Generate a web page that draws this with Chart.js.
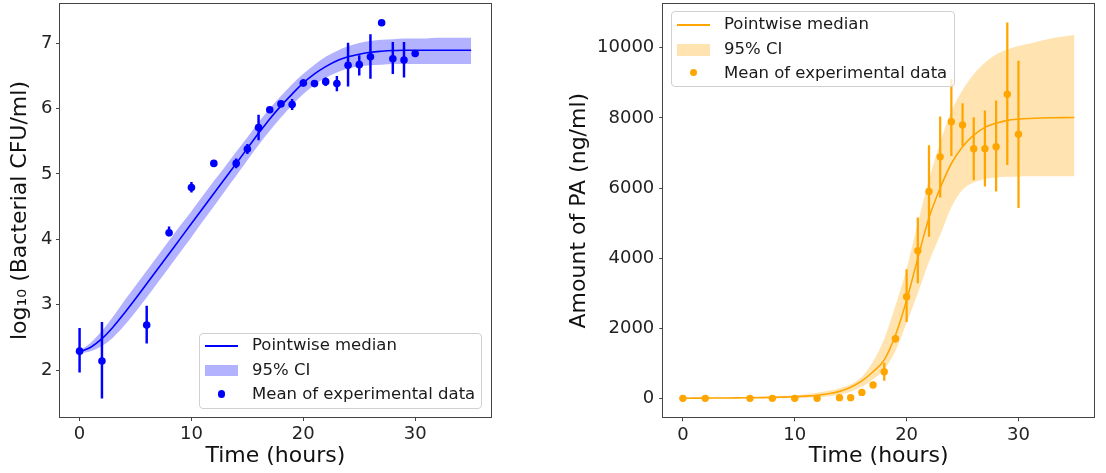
<!DOCTYPE html>
<html>
<head>
<meta charset="utf-8">
<script src="https://cdn.jsdelivr.net/npm/chart.js@4.4.0/dist/chart.umd.min.js"></script>
<style>
  body { margin: 0; background: #fff; width: 1106px; height: 473px; overflow: hidden; position: relative; font-family: 'DejaVu Sans', sans-serif; }
  canvas { position: absolute; top: 0; }
  #leftChart { left: 0; }
  #rightChart { left: 553px; }
  .legend { position: absolute; background: rgba(255,255,255,0.8); border: 1px solid #d0d0d0; border-radius: 4px; box-sizing: border-box; font-size: 16.5px; color: #1a1a1a; }
  .legend .txt { position: absolute; line-height: 20px; white-space: nowrap; }
  .legend .mk { position: absolute; }
</style>
</head>
<body>
<canvas id="leftChart" width="553" height="473"></canvas>
<canvas id="rightChart" width="553" height="473"></canvas>

<div class="legend" id="legLeft" style="left:199px;top:333px;width:283px;height:76px;"></div>
<div class="legend" id="legRight" style="left:671px;top:11px;width:284px;height:76px;"></div>

<script>
// Measurement times (hours)
const obsT = [0, 2, 6, 8, 10, 12, 14, 15, 16, 17, 18, 19, 20, 21, 22, 23, 24, 25, 26, 27, 28, 29, 30];

// Left panel: log10 bacterial CFU/ml
const bactMean = [2.29, 2.14, 2.69, 4.10, 4.79, 5.16, 5.16, 5.38, 5.71, 5.98, 6.07, 6.06, 6.39, 6.38, 6.41, 6.38, 6.66, 6.67, 6.79, 7.31, 6.76, 6.74, 6.84];
const bactLo   = [1.97, 1.57, 2.41, 4.05, 4.72, 5.13, 5.09, 5.31, 5.52, 5.95, 6.04, 5.98, 6.34, 6.35, 6.35, 6.27, 6.34, 6.51, 6.46, 7.30, 6.53, 6.48, 6.82];
const bactHi   = [2.64, 2.73, 2.98, 4.19, 4.87, 5.19, 5.23, 5.45, 5.90, 6.01, 6.10, 6.14, 6.44, 6.41, 6.47, 6.49, 7.00, 6.81, 7.13, 7.32, 7.01, 7.01, 6.86];

// Model curve times
const curveT = [0, 1, 2, 3, 4, 5, 6, 7, 8, 9, 10, 11, 12, 13, 14, 15, 16, 17, 18, 19, 20, 21, 22, 23, 24, 25, 26, 27, 28, 29, 30, 31, 32, 33, 34, 35];

const bactMedian = [2.28, 2.35, 2.48, 2.66, 2.87, 3.09, 3.32, 3.55, 3.78, 4.01, 4.24, 4.47, 4.70, 4.93, 5.16, 5.39, 5.62, 5.84, 6.04, 6.22, 6.39, 6.53, 6.64, 6.73, 6.79, 6.83, 6.86, 6.875, 6.885, 6.89, 6.89, 6.89, 6.89, 6.89, 6.89, 6.89];
const bactLower  = [2.26, 2.29, 2.37, 2.50, 2.68, 2.89, 3.11, 3.34, 3.57, 3.80, 4.03, 4.27, 4.50, 4.74, 4.97, 5.21, 5.44, 5.66, 5.86, 6.05, 6.22, 6.36, 6.47, 6.55, 6.61, 6.64, 6.66, 6.67, 6.68, 6.68, 6.68, 6.68, 6.68, 6.68, 6.68, 6.68];
const bactUpper  = [2.30, 2.42, 2.60, 2.82, 3.06, 3.29, 3.52, 3.75, 3.98, 4.21, 4.43, 4.66, 4.89, 5.11, 5.34, 5.56, 5.79, 6.00, 6.19, 6.37, 6.53, 6.67, 6.79, 6.88, 6.95, 7.00, 7.03, 7.05, 7.06, 7.07, 7.07, 7.07, 7.08, 7.08, 7.08, 7.08];

// Right panel: amount of PA (ng/ml)
const paMean = [0, 0, 0, 0, 0, 0, 20, 20, 170, 380, 760, 1700, 2900, 4210, 5900, 6890, 7890, 7800, 7120, 7120, 7180, 8676, 7535];
const paLo   = [0, 0, 0, 0, 0, 0, 0, 0, 130, 340, 510, 1600, 2188, 3296, 4622, 5739, 6923, 7207, 6233, 6051, 5909, 6668, 5438];
const paHi   = [0, 0, 0, 0, 0, 0, 40, 40, 210, 420, 1005, 1800, 3676, 5153, 7208, 8031, 9100, 8410, 8012, 8202, 8486, 10711, 9622];

const paMedian = [5, 6, 8, 10, 12, 15, 18, 22, 28, 36, 48, 64, 88, 130, 200, 320, 500, 760, 1100, 1800, 2800, 4000, 5150, 6000, 6700, 7180, 7510, 7730, 7850, 7930, 7965, 7985, 7998, 8005, 8010, 8012];
const paLower  = [0, 0, 0, 1, 2, 3, 4, 5, 7, 10, 14, 20, 30, 55, 100, 190, 330, 540, 815, 1350, 2150, 3000, 3900, 4650, 5450, 5950, 6160, 6260, 6300, 6320, 6330, 6335, 6335, 6335, 6335, 6335];
const paUpper  = [10, 12, 15, 19, 24, 30, 37, 46, 57, 72, 92, 120, 160, 215, 290, 400, 620, 1050, 1700, 2650, 3700, 5000, 6250, 7300, 8200, 8800, 9245, 9575, 9810, 9955, 10050, 10120, 10200, 10270, 10320, 10370];

// Tick labels
const xTicks = [0, 10, 20, 30];
const bactTicks = [2, 3, 4, 5, 6, 7];
const paTicks = [0, 2000, 4000, 6000, 8000, 10000];

Chart.defaults.font.family = "'DejaVu Sans', sans-serif";
Chart.defaults.color = '#222';

const pts = (xs, ys) => xs.map((x, i) => ({ x: x, y: ys[i] }));
const bars = (xs, lo, hi) => xs.map((x, i) => ({ x: x, y: [lo[i], hi[i]] }));

// draw all four spines like matplotlib
const frame = {
  id: 'frame',
  afterDraw(chart) {
    const { ctx, chartArea: a } = chart;
    ctx.save();
    ctx.strokeStyle = '#444';
    ctx.lineWidth = 1;
    ctx.strokeRect(Math.round(a.left) - 0.5, Math.round(a.top) - 0.5, Math.round(a.right - a.left) + 1, Math.round(a.bottom - a.top) + 1);
    ctx.restore();
  }
};

function makeChart(id, opt) {
  const c = opt.color;
  return new Chart(document.getElementById(id), {
    type: 'line',
    data: {
      datasets: [
        { label: 'Mean of experimental data', data: pts(obsT, opt.mean), showLine: false,
          pointRadius: opt.radius, pointBorderWidth: 0, pointBackgroundColor: c, borderColor: c },
        { type: 'bar', label: 'error', data: bars(obsT, opt.lo, opt.hi), backgroundColor: c,
          barThickness: opt.errWidth, borderWidth: 0 },
        { label: 'Pointwise median', data: pts(curveT, opt.median), borderColor: c, borderWidth: 1.6,
          pointRadius: 0, fill: false, cubicInterpolationMode: 'monotone' },
        { label: 'lower', data: pts(curveT, opt.lower), borderWidth: 0, borderColor: 'transparent',
          pointRadius: 0, fill: false, cubicInterpolationMode: 'monotone' },
        { label: '95% CI', data: pts(curveT, opt.upper), borderWidth: 0, borderColor: 'transparent',
          pointRadius: 0, fill: '-1', backgroundColor: opt.band, cubicInterpolationMode: 'monotone' }
      ]
    },
    options: {
      responsive: false,
      animation: false,
      events: [],
      layout: { padding: opt.padding },
      plugins: { legend: { display: false }, tooltip: { enabled: false } },
      scales: {
        x: {
          type: 'linear', min: -1.75, max: 36.75, offset: false,
          afterBuildTicks: s => { s.ticks = xTicks.map(v => ({ value: v })); },
          afterFit: s => { s.height = opt.xHeight; s.paddingLeft = 0; s.paddingRight = 0; },
          grid: { display: true, drawOnChartArea: false, drawTicks: true, tickLength: 4, color: '#444', offset: false },
          border: { display: false },
          ticks: { font: { size: 18 }, color: '#222', padding: 2.8, maxRotation: 0 },
          title: { display: true, text: 'Time (hours)', font: { size: 22 }, color: '#111', padding: { top: 0, bottom: 4 } }
        },
        y: {
          type: 'linear', min: opt.yMin, max: opt.yMax,
          afterBuildTicks: s => { s.ticks = opt.yTicks.map(v => ({ value: v })); },
          afterFit: s => { s.width = opt.yWidth; s.paddingTop = 0; s.paddingBottom = 0; },
          grid: { display: true, drawOnChartArea: false, drawTicks: true, tickLength: 4, color: '#444' },
          border: { display: false },
          ticks: { font: { size: 18 }, color: '#222', padding: opt.yPad, callback: v => String(v) },
          title: { display: true, text: opt.yTitle, font: { size: 22 }, color: '#111', padding: { top: opt.titlePad, bottom: 0 } }
        }
      }
    },
    plugins: [frame]
  });
}

makeChart('leftChart', {
  color: 'blue', band: 'rgba(0,0,255,0.3)', radius: 3.8, errWidth: 1.8,
  mean: bactMean, lo: bactLo, hi: bactHi, median: bactMedian, lower: bactLower, upper: bactUpper,
  yMin: 1.283, yMax: 7.597, yTicks: bactTicks, yTitle: 'log\u2081\u2080 (Bacterial CFU/ml)',
  padding: { left: 0, top: 3, right: 62.3, bottom: 0 }, xHeight: 56, yWidth: 60, yPad: 3.5, titlePad: 7.2
});

makeChart('rightChart', {
  color: '#ffa500', band: 'rgba(255,165,0,0.3)', radius: 3.7, errWidth: 1.6,
  mean: paMean, lo: paLo, hi: paHi, median: paMedian, lower: paLower, upper: paUpper,
  yMin: -540, yMax: 11250, yTicks: paTicks, yTitle: 'Amount of PA (ng/ml)',
  padding: { left: 0, top: 3, right: 12, bottom: 0 }, xHeight: 55.7, yWidth: 110.3, yPad: 5, titlePad: 13.3
});

// HTML legends (matplotlib-style boxes inside the axes)
function buildLegend(id, color, band, rows) {
  const el = document.getElementById(id);
  const items = [
    { kind: 'line', text: 'Pointwise median' },
    { kind: 'rect', text: '95% CI' },
    { kind: 'dot', text: 'Mean of experimental data' }
  ];
  items.forEach((it, i) => {
    const cy = rows[i];
    const mk = document.createElement('div');
    mk.className = 'mk';
    if (it.kind === 'line') {
      mk.style.cssText = `left:5px;top:${cy - 1}px;width:33px;height:1.6px;background:${color};`;
    } else if (it.kind === 'rect') {
      mk.style.cssText = `left:5px;top:${cy - 6}px;width:33px;height:11.5px;background:${band};`;
    } else {
      mk.style.cssText = `left:${21.5 - 3.8}px;top:${cy - 4.8}px;width:7.6px;height:7.6px;border-radius:50%;background:${color};`;
    }
    el.appendChild(mk);
    const t = document.createElement('span');
    t.className = 'txt';
    t.style.left = '52px';
    t.style.top = (cy - 11) + 'px';
    t.textContent = it.text;
    el.appendChild(t);
  });
}
buildLegend('legLeft', 'blue', 'rgba(0,0,255,0.3)', [12.4, 36.7, 61.2]);
buildLegend('legRight', '#ffa500', 'rgba(255,165,0,0.3)', [13.3, 38.3, 61.7]);
</script>
</body>
</html>
